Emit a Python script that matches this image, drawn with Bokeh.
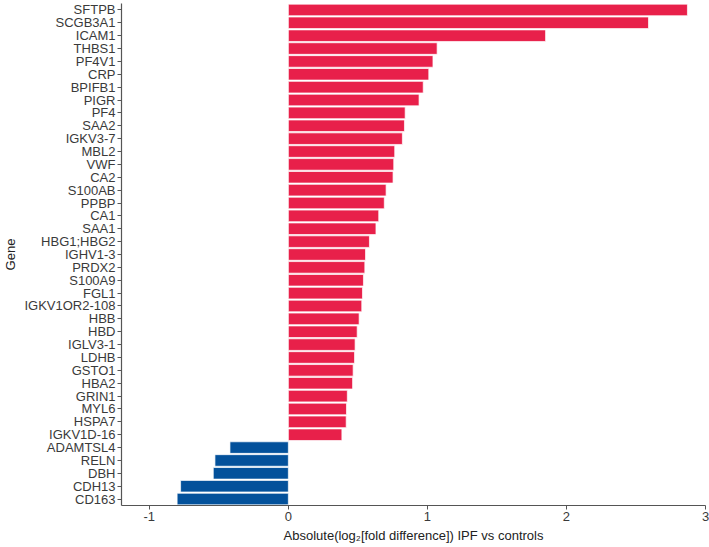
from bokeh.plotting import figure
from bokeh.models import ColumnDataSource, FixedTicker, PrintfTickFormatter
from bokeh.embed import file_html
from bokeh.resources import INLINE

# Genes ordered top to bottom
genes = ["SFTPB", "SCGB3A1", "ICAM1", "THBS1", "PF4V1", "CRP", "BPIFB1", "PIGR",
         "PF4", "SAA2", "IGKV3-7", "MBL2", "VWF", "CA2", "S100AB", "PPBP", "CA1",
         "SAA1", "HBG1;HBG2", "IGHV1-3", "PRDX2", "S100A9", "FGL1", "IGKV1OR2-108",
         "HBB", "HBD", "IGLV3-1", "LDHB", "GSTO1", "HBA2", "GRIN1", "MYL6", "HSPA7",
         "IGKV1D-16", "ADAMTSL4", "RELN", "DBH", "CDH13", "CD163"]

# log2 fold difference, IPF vs controls
log2_fd = [2.87, 2.59, 1.85, 1.07, 1.04, 1.01, 0.97, 0.94,
           0.84, 0.835, 0.82, 0.765, 0.758, 0.753, 0.703, 0.69, 0.65,
           0.63, 0.583, 0.555, 0.55, 0.54, 0.533, 0.528,
           0.509, 0.495, 0.48, 0.476, 0.466, 0.462, 0.424, 0.418, 0.416,
           0.385, -0.42, -0.528, -0.54, -0.775, -0.80]

x_ticks = [-1, 0, 1, 2, 3]

UP_COLOR = "#E8204A"
DOWN_COLOR = "#03519B"

colors = [UP_COLOR if v >= 0 else DOWN_COLOR for v in log2_fd]
source = ColumnDataSource(dict(gene=genes, val=log2_fd, color=colors))

p = figure(width=709, height=547, y_range=list(reversed(genes)),
           x_range=(-1.2, 3.0), output_backend="svg", toolbar_location=None,
           min_border_left=121, min_border_right=4, min_border_top=3,
           min_border_bottom=42)

p.hbar(y="gene", left=0, right="val", height=0.9, source=source,
       fill_color="color", line_color="white", line_width=1, line_alpha=0.7)

p.outline_line_color = None
p.grid.grid_line_color = None
p.background_fill_color = "white"
p.border_fill_color = "white"

for ax in (p.xaxis, p.yaxis):
    ax.axis_line_color = "#555555"
    ax.axis_line_width = 1.2
    ax.major_tick_line_color = "#555555"
    ax.major_tick_in = 0
    ax.major_tick_out = 4
    ax.minor_tick_line_color = None
    ax.major_label_text_font = "Liberation Sans"
    ax.major_label_text_font_size = "13px"
    ax.major_label_text_color = "#3a3a3a"
    ax.major_label_standoff = 2
    ax.axis_label_text_font = "Liberation Sans"
    ax.axis_label_text_font_size = "13px"
    ax.axis_label_text_font_style = "normal"
    ax.axis_label_text_color = "#222222"

p.xaxis.ticker = FixedTicker(ticks=x_ticks)
p.xaxis.formatter = PrintfTickFormatter(format="%d")
p.xaxis.axis_label = "Absolute(log\u2082[fold difference]) IPF vs controls"
p.xaxis.axis_label_standoff = 4
p.yaxis.axis_label = "Gene"
p.yaxis.axis_label_standoff = 3

open("out.html", "w").write(file_html(p, INLINE))
